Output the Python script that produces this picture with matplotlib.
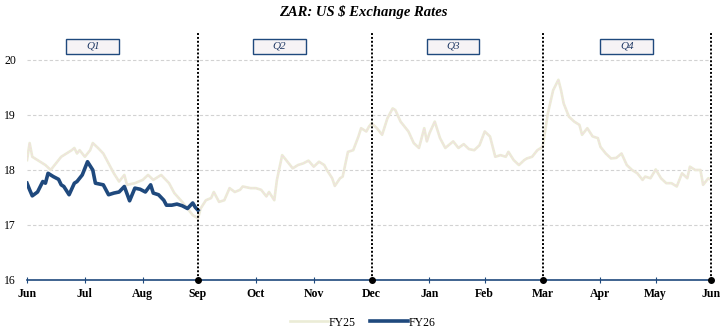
import numpy as np
import matplotlib.pyplot as plt
from matplotlib.patches import Rectangle

plt.rcParams['font.family'] = 'Liberation Serif'

fy25_day = [0, 1, 2, 5, 7, 9, 11, 13, 15, 17, 18, 19, 20, 22, 24, 25, 27, 29, 31, 33,
            35, 37, 38, 41, 44, 46, 48, 51, 54, 56, 59, 61, 63, 65, 66, 68, 70, 71, 73, 75,
            77, 79, 81, 82, 85, 87, 89, 91, 92, 94, 95, 97, 99, 101, 103, 105, 107, 109, 111, 113,
            114, 116, 117, 119, 120, 122, 124, 126, 127, 129, 130, 131, 133, 135, 137, 139, 140, 142, 144, 145,
            147, 149, 151, 152, 153, 155, 157, 159, 162, 164, 166, 168, 170, 172, 174, 176, 178, 180, 182, 183,
            185, 187, 189, 190, 192, 194, 196, 198, 200, 202, 203, 204, 206, 208, 210, 211, 213, 215, 217, 218,
            220, 222, 224, 226, 228, 230, 232, 234, 235, 237, 239, 241, 243, 245, 247, 249, 251, 252, 254, 256,
            257, 259, 260]
fy25_rate = [18.18, 18.49, 18.24, 18.15, 18.09, 18.00, 18.12, 18.24, 18.30, 18.36, 18.40, 18.30, 18.36, 18.24, 18.36, 18.49, 18.40, 18.30, 18.12, 17.94,
             17.79, 17.91, 17.73, 17.76, 17.82, 17.91, 17.82, 17.91, 17.76, 17.58, 17.42, 17.30, 17.18, 17.12, 17.30, 17.45, 17.49, 17.60, 17.42, 17.45,
             17.67, 17.60, 17.64, 17.70, 17.67, 17.67, 17.64, 17.52, 17.60, 17.45, 17.82, 18.27, 18.15, 18.03, 18.09, 18.12, 18.17, 18.06, 18.15, 18.09,
             18.00, 17.85, 17.71, 17.85, 17.88, 18.33, 18.36, 18.61, 18.76, 18.70, 18.79, 18.85, 18.76, 18.64, 18.94, 19.12, 19.09, 18.88, 18.76, 18.70,
             18.49, 18.40, 18.76, 18.52, 18.67, 18.88, 18.58, 18.40, 18.52, 18.40, 18.47, 18.38, 18.36, 18.45, 18.70, 18.61, 18.24, 18.27, 18.24, 18.33,
             18.18, 18.09, 18.18, 18.21, 18.24, 18.36, 18.42, 19.03, 19.45, 19.64, 19.45, 19.21, 18.97, 18.88, 18.82, 18.64, 18.76, 18.61, 18.58, 18.42,
             18.30, 18.21, 18.22, 18.30, 18.09, 18.00, 17.94, 17.82, 17.88, 17.85, 18.01, 17.85, 17.76, 17.76, 17.70, 17.94, 17.85, 18.06, 18.00, 18.00,
             17.73, 17.85, 17.82]

fy26_day = [0, 1, 2, 4, 6, 7, 8, 10, 12, 13, 14, 16, 18, 19, 21, 23, 25, 26, 29, 31,
            33, 35, 37, 39, 41, 43, 45, 47, 48, 50, 52, 53, 55, 57, 59, 61, 63, 64, 65]
fy26_rate = [17.76, 17.64, 17.53, 17.60, 17.79, 17.76, 17.94, 17.88, 17.83, 17.73, 17.70, 17.55, 17.76, 17.79, 17.91, 18.15, 18.00, 17.76, 17.73, 17.55,
             17.58, 17.60, 17.70, 17.44, 17.67, 17.65, 17.60, 17.73, 17.58, 17.55, 17.45, 17.36, 17.36, 17.38, 17.35, 17.30, 17.40, 17.32, 17.27]

month_labels = ['Jun', 'Jul', 'Aug', 'Sep', 'Oct', 'Nov', 'Dec', 'Jan', 'Feb', 'Mar', 'Apr', 'May', 'Jun']
month_start = [0, 22, 44, 65, 87, 109, 131, 153, 174, 196, 218, 239, 260]
quarter_end = [65, 131, 196, 260]
quarter_labels = ['Q1', 'Q2', 'Q3', 'Q4']
quarter_mid = [25, 96, 162, 228]

navy = '#1f497d'

fig = plt.figure(figsize=(7.26, 3.36), dpi=100)
ax = fig.add_axes([0.0372, 0.1667, 0.9421, 0.7366])

# FY25 drawn as a pale speckled line: light base with a pink dotted overlay
ax.plot(fy25_day, fy25_rate, color='#ebecd6', lw=1.9, label='FY25', zorder=3)
ax.plot(fy25_day, fy25_rate, color='#f3dbe3', lw=0.9, ls=(0, (1, 1.5)), zorder=3)
ax.plot(fy26_day, fy26_rate, color=navy, lw=2.6, label='FY26', zorder=4)

for q in quarter_end:
    ax.plot([q, q], [16, 20.5], color='black', lw=1.4, ls=(0, (1, 1)), clip_on=False, zorder=5)
    ax.plot(q, 16, 'o', color='black', ms=4, clip_on=False, zorder=6)

# quarter tags along the top
for lbl, xm in zip(quarter_labels, quarter_mid):
    ax.add_patch(Rectangle((xm - 10, 20.11), 20, 0.28, fc='#f6f3f5', ec=navy, lw=1.0, zorder=6))
    ax.text(xm, 20.25, lbl, ha='center', va='center', fontsize=8, style='italic',
            color='#1f3864', zorder=7)

ax.set_xlim(0, 260)
ax.set_ylim(16, 20.5)
ax.set_yticks([16, 17, 18, 19, 20])
ax.set_xticks(month_start)
ax.set_xticklabels(month_labels, fontweight='bold', fontsize=8.5)
ax.tick_params(axis='y', length=0, labelsize=8.5, pad=8)
ax.tick_params(axis='x', direction='inout', length=4, color=navy, pad=4)
ax.grid(axis='y', color='#d2d2d2', ls=(0, (3, 2)), lw=0.8)
ax.set_axisbelow(True)

for side in ['left', 'right', 'top']:
    ax.spines[side].set_visible(False)
ax.spines['bottom'].set_color(navy)
ax.spines['bottom'].set_linewidth(1.2)

fig.text(0.5, 0.963, 'ZAR: US $ Exchange Rates', ha='center', va='center',
         fontsize=10.5, fontweight='bold', style='italic')

handles, labels = ax.get_legend_handles_labels()
fig.legend(handles, labels, loc='center', bbox_to_anchor=(0.5, 0.04), ncol=2, frameon=False,
           fontsize=8.5, handlelength=3.2, handletextpad=0.1, columnspacing=1.2)

fig.savefig('out.png', dpi=100)
